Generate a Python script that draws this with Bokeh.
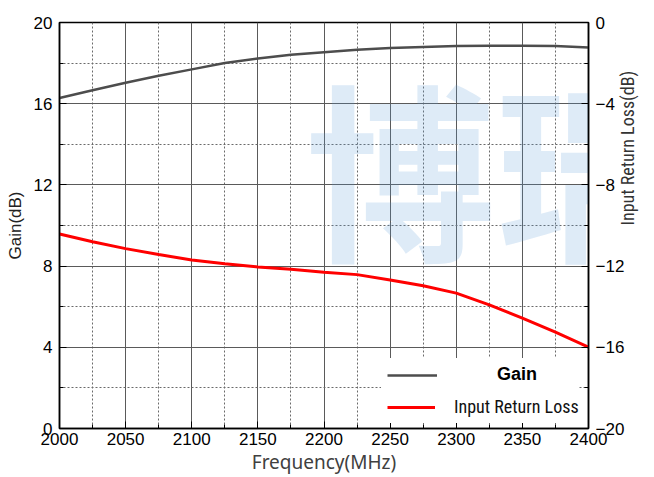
import math
from bokeh.plotting import figure
from bokeh.models import Range1d, LinearAxis, FixedTicker, Legend, LegendItem, Label
from bokeh.embed import file_html
from bokeh.resources import INLINE

# ---- data ----
freq = [2000, 2025, 2050, 2075, 2100, 2125, 2150, 2175, 2200,
        2225, 2250, 2275, 2300, 2325, 2350, 2375, 2400]
gain = [16.28, 16.66, 17.03, 17.38, 17.69, 18.00, 18.23, 18.41, 18.54,
        18.66, 18.74, 18.79, 18.84, 18.85, 18.85, 18.84, 18.77]
return_loss = [-10.42, -10.80, -11.14, -11.43, -11.70, -11.88, -12.04, -12.15, -12.30,
               -12.42, -12.68, -12.97, -13.33, -13.91, -14.56, -15.25, -15.99]

x_ticks = [2000, 2050, 2100, 2150, 2200, 2250, 2300, 2350, 2400]
x_minor = [2025, 2075, 2125, 2175, 2225, 2275, 2325, 2375]
gain_ticks = [0, 4, 8, 12, 16, 20]
gain_minor = [2, 6, 10, 14, 18]
rl_ticks = [-20, -16, -12, -8, -4, 0]
rl_minor = [-18, -14, -10, -6, -2]

series_names = ["Gain", "Input Return Loss"]
x_title = "Frequency(MHz)"
y_title = "Gain(dB)"
y2_title = "Input Return Loss(dB)"
watermark = "博瑞"

# ---- layout (pixels) ----
W, H = 654, 477
FL, FR, FT, FB = 59, 588, 22, 429
XMIN, XMAX, YMIN, YMAX = 2000, 2400, 0, 20

def dx(px):
    return XMIN + (px - FL) / (FR - FL) * (XMAX - XMIN)

def dy(py):
    return YMIN + (FB - py) / (FB - FT) * (YMAX - YMIN)

ARIAL = "Liberation Sans"
NARROW = "'Liberation Sans Narrow', 'Roboto Condensed', Roboto, sans-serif"

p = figure(width=W, height=H, x_range=Range1d(XMIN, XMAX), y_range=Range1d(YMIN, YMAX),
           output_backend="svg", toolbar_location=None,
           min_border_left=FL, min_border_right=W - FR, min_border_top=FT,
           min_border_bottom=H - FB)
p.background_fill_color = "white"
p.border_fill_color = "white"
p.outline_line_color = "black"
p.outline_line_width = 1.5

p.extra_y_ranges = {"rl": Range1d(-20, 0)}

# axes
xa = p.xaxis[0]
xa.ticker = FixedTicker(ticks=x_ticks, minor_ticks=x_minor)
ya = p.yaxis[0]
ya.ticker = FixedTicker(ticks=gain_ticks, minor_ticks=gain_minor)
ra = LinearAxis(y_range_name="rl", ticker=FixedTicker(ticks=rl_ticks, minor_ticks=rl_minor))
p.add_layout(ra, "right")

for ax, standoff in ((xa, 4), (ya, 7), (ra, 7)):
    ax.axis_line_color = "black"
    ax.axis_line_width = 1.5
    ax.major_tick_in = 7
    ax.major_tick_out = 0
    ax.minor_tick_in = 4
    ax.minor_tick_out = 0
    ax.major_tick_line_color = "black"
    ax.minor_tick_line_color = "black"
    ax.major_label_text_font = ARIAL
    ax.major_label_text_font_size = "17px"
    ax.major_label_text_color = "black"
    ax.major_label_standoff = standoff

xa.axis_label = x_title
xa.axis_label_text_font = "Noto Sans"
xa.axis_label_text_font_size = "19px"
xa.axis_label_text_font_style = "normal"
xa.axis_label_text_color = "#404040"
xa.axis_label_standoff = 1

ya.axis_label = y_title
ya.axis_label_text_font = ARIAL
ya.axis_label_text_font_size = "17px"
ya.axis_label_text_font_style = "normal"
ya.axis_label_text_color = "#222222"
ya.axis_label_standoff = 6

ra.axis_label = y2_title
ra.axis_label_text_font = NARROW
ra.axis_label_text_font_size = "18px"
ra.axis_label_text_font_style = "normal"
ra.axis_label_text_color = "#333333"
ra.axis_label_standoff = 0
try:
    ra.axis_label_orientation = math.pi / 2
except Exception:
    pass

# grids
for g in (p.xgrid[0], p.ygrid[0]):
    g.grid_line_color = "#5a5a5a"
    g.grid_line_width = 1
    g.minor_grid_line_color = "#6a6a6a"
    g.minor_grid_line_width = 1
    g.minor_grid_line_dash = "2 2"

# watermark
p.add_layout(Label(x=dx(305), y=dy(164), text=watermark, text_font="'Noto Sans CJK SC'",
                   text_font_size="190px", text_font_style="bold", text_color="#5b9bd5",
                   text_alpha=0.2, text_baseline="middle", text_align="left",
                   level="underlay"))

# lines
g_line = p.line(freq, gain, line_color="#4d4d4d", line_width=2.5)
r_line = p.line(freq, return_loss, y_range_name="rl", line_color="#ff0000", line_width=3)

# legends
leg1 = Legend(items=[LegendItem(label=series_names[0], renderers=[g_line])],
              location=(381 - FL, FB - 392), padding=6, margin=0, spacing=0,
              glyph_width=50, glyph_height=18, label_standoff=60, label_width=75,
              label_height=18, label_text_font=ARIAL, label_text_font_style="bold",
              label_text_font_size="18px", label_text_color="black",
              background_fill_color="white", background_fill_alpha=1.0,
              border_line_alpha=0)
leg2 = Legend(items=[LegendItem(label=series_names[1], renderers=[r_line])],
              location=(381 - FL, FB - 424), padding=6, margin=0, spacing=0,
              glyph_width=48, glyph_height=20, label_standoff=19, label_width=118,
              label_height=20, label_text_font=NARROW, label_text_font_size="18px",
              label_text_color="#111111",
              background_fill_color="white", background_fill_alpha=1.0,
              border_line_alpha=0)
p.add_layout(leg1)
p.add_layout(leg2)

open("out.html", "w").write(file_html(p, INLINE))
